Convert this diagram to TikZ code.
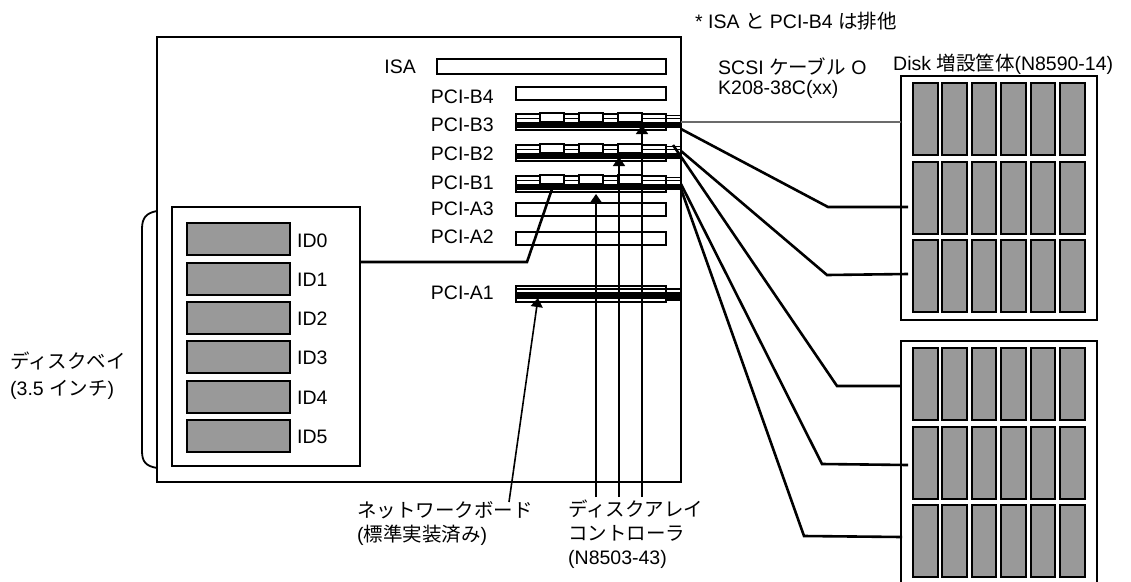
\documentclass[tikz,border=0pt]{standalone}
\usepackage{fontspec}
\setmainfont{Liberation Sans}
\newfontfamily\jp{Noto Sans CJK JP}
\usetikzlibrary{arrows.meta}
\tikzset{
  slot/.style={draw,line width=1.8pt,fill=white},
  disk/.style={draw,line width=2pt,fill=black!40},
  cable/.style={line width=2.6pt},
  lbl/.style={inner sep=0pt,font=\fontsize{19.5}{24}\selectfont},
  arr/.style={line width=1.6pt,-{Triangle[length=9pt,width=12pt]}},
}
\begin{document}
\begin{tikzpicture}[x=1pt,y=-1pt]
	\useasboundingbox (0,0) rectangle (1131,581);
	% chassis
	\draw[line width=2pt] (157,37) rectangle (681,482);
	% empty slots
	\draw[slot] (437,59) rectangle (666,74);
	\node[lbl,anchor=base east] (isa) at (416,73) {ISA};
	\foreach \n/\t/\b in {B4/87/103,A3/203/215,A2/232/243} {
		\draw[slot] (516,\t) rectangle (666,\t+13);
		\node[lbl,anchor=base east] (pci\n) at (494,\b) {PCI-\n};
	}
	% slots with a card
	\foreach \n/\t/\b in {B3/114/131,B2/145/160,B1/176/189} {
		\draw[slot] (516,\t) rectangle (666,\t+16);
		\draw[line width=1.8pt] (516,\t+4.5) -- (681,\t+4.5);
		\fill (516,\t+7.5) rectangle (681,\t+13.5);
		\draw[line width=1.6pt] (666,\t+1.5) -- (681,\t+1.5);
		\foreach \x in {540,579,618}
			\draw[line width=1.8pt,fill=white] (\x,\t-1) rectangle (\x+24,\t+8);
		\node[lbl,anchor=base east] (pci\n) at (494,\b) {PCI-\n};
	}
	\draw[slot] (516,286) rectangle (666,302);
	\draw[line width=1.8pt] (516,289) -- (681,289);
	\fill (516,292) rectangle (681,298.5);
	\draw[line width=1.6pt] (666,300) -- (681,300);
	\node[lbl,anchor=base east] (pciA1) at (494,299) {PCI-A1};

	% disk bay
	\draw[line width=2pt] (172,207) rectangle (360,466);
	\foreach \i in {0,...,5} {
		\draw[disk] (187,223.3+39.3*\i) rectangle +(103,32);
		\node[lbl,anchor=base west] (id\i) at (297,247+39.3*\i) {ID\i};
	}
	\draw[line width=1.8pt] (157,211) .. controls (146,213) and (142,218) .. (142,229)
		-- (142,451) .. controls (142,462) and (146,466) .. (157,468);
	\node[lbl,anchor=base west,align=left,font=\fontsize{19.5}{27}\selectfont] (baylbl) at (10,395)
		{{\jp ディスクベイ}\\(3.5 {\jp インチ})};

	% disk enclosures
	\foreach \ey in {76,341} {
		\draw[line width=1.8pt] (901,\ey) rectangle (1097,\ey+244);
		\foreach \r in {0,1,2}
			\foreach \c in {0,...,5}
				\draw[disk] (913+29.4*\c,\ey+7+78.5*\r) rectangle +(24.5,72);
	}
	\node[lbl,anchor=base west] (enclbl) at (893,70) {Disk {\jp 増設筐体}(N8590-14)};
	\node[lbl,anchor=base west] (note) at (695,28) {* ISA {\jp と} PCI-B4 {\jp は排他}};
	\node[lbl,anchor=base west,align=left,font=\fontsize{19.5}{20}\selectfont] (scsi) at (718,94)
		{SCSI {\jp ケーブル} O\\K208-38C(xx)};

	% cables
	\coordinate (b3a) at (681,122);  \coordinate (e1r1) at (901,122);
	\coordinate (b3b) at (681,129);  \coordinate (e1r2) at (908,207);
	\coordinate (b2a) at (673,145);  \coordinate (e2r1) at (901,386);
	\coordinate (b2b) at (681,151);  \coordinate (e1r3) at (908,274);
	\coordinate (b1a) at (681,184);  \coordinate (e2r2) at (908,465);
	\coordinate (b1b) at (681,189);  \coordinate (e2r3) at (902,537);
	\draw[cable,black!58] (b3a) -- (e1r1);
	\draw[cable] (b3b) -- (828,207) -- (e1r2);
	\draw[cable] (b2a) -- (837,386) -- (e2r1);
	\draw[cable] (b2b) -- (827,275) -- (e1r3);
	\draw[cable] (b1a) -- (822,464) -- (e2r2);
	\draw[cable] (b1b) -- (804,536) -- (e2r3);
	\coordinate (bayout) at (360,262);
	\coordinate (b1in) at (552,189);
	\draw[cable] (bayout) -- (527,262) -- (b1in);

	% labels below
	\node[lbl,anchor=base west,align=left] (netlbl) at (357,541)
		{{\jp ネットワークボード}\\({\jp 標準実装済み})};
	\node[lbl,anchor=base west,align=left] (ctllbl) at (568,564)
		{{\jp ディスクアレイ}\\{\jp コントローラ}\\(N8503-43)};
	\coordinate (netfoot) at (509,502);  \coordinate (a1tip) at (538,298);
	\coordinate (ctl1) at (596,497);  \coordinate (b1tip) at (596,194);
	\coordinate (ctl2) at (619,497);  \coordinate (b2tip) at (619,157);
	\coordinate (ctl3) at (642,497);  \coordinate (b3tip) at (642,125);
	\draw[arr] (netfoot) -- (a1tip);
	\draw[arr] (ctl1) -- (b1tip);
	\draw[arr] (ctl2) -- (b2tip);
	\draw[arr] (ctl3) -- (b3tip);
\end{tikzpicture}
\end{document}
